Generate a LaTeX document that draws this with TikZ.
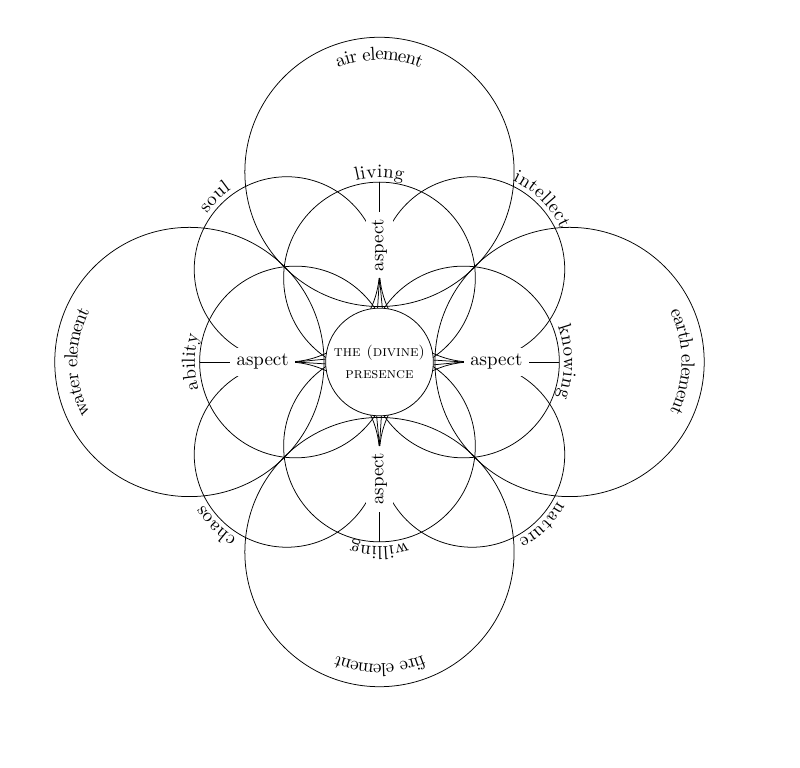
\documentclass[tikz,border=0pt]{standalone}
\usetikzlibrary{decorations.text}

\begin{document}
\begin{tikzpicture}[
    presence/.style={circle, draw, fill=white, minimum size=2cm, inner sep=0pt, align=center, font=\footnotesize\scshape},
    aspectbox/.style={fill=white},
    curved/.style={decorate, decoration={text along path, text align=center, raise=2.5pt, text={#1}}},
    curvedin/.style={decorate, decoration={text along path, text align=center, raise=-0.21cm, text={#1}}}
]
    \useasboundingbox (-7.047,-7.539) rectangle (7.809,6.722);

    % element circles
    \draw (0,3.53) circle (2.5);
    \draw (3.53,0) circle (2.5);
    \draw (0,-3.53) circle (2.5);
    \draw (-3.53,0) circle (2.5);

    % circles on the axes
    \draw (0,1.56) circle (1.78);
    \draw (1.56,0) circle (1.78);
    \draw (0,-1.56) circle (1.78);
    \draw (-1.56,0) circle (1.78);

    % circles on the diagonals
    \draw (-1.72,1.72) circle (1.72);
    \draw (1.72,1.72) circle (1.72);
    \draw (1.72,-1.72) circle (1.72);
    \draw (-1.72,-1.72) circle (1.72);

    \node[presence] (pres) at (0,0) {the (divine)\\[2pt] presence};
    \node[aspectbox, rotate=90] (asptop) at (0,2.17) {aspect};
    \node[aspectbox] (aspright) at (2.17,0) {aspect};
    \node[aspectbox, rotate=90] (aspbot) at (0,-2.17) {aspect};
    \node[aspectbox] (aspleft) at (-2.17,0) {aspect};

    \coordinate (living) at (0,3.34);
    \coordinate (knowing) at (3.34,0);
    \coordinate (willing) at (0,-3.34);
    \coordinate (ability) at (-3.34,0);

    \draw (living) -- (asptop);
    \draw (knowing) -- (aspright);
    \draw (willing) -- (aspbot);
    \draw (ability) -- (aspleft);

    % spikes into the presence
    \draw (asptop.west) -- (pres.87.3) (asptop.west) -- (pres.92.7);
    \draw (aspleft.east) -- (pres.177.3) (aspleft.east) -- (pres.182.7);
    \draw (aspbot.east) -- (pres.267.3) (aspbot.east) -- (pres.272.7);
    \draw (aspright.west) -- (pres.357.3) (aspright.west) -- (pres.2.7);

    % labels along the circles
    \path[curved=living] (0,1.56) ++(180:1.78) arc[start angle=180, end angle=0, radius=1.78];
    \path[curved=knowing] (1.56,0) ++(90:1.78) arc[start angle=90, end angle=-90, radius=1.78];
    \path[curved=willing] (0,-1.56) ++(0:1.78) arc[start angle=0, end angle=-180, radius=1.78];
    \path[curved=ability] (-1.56,0) ++(270:1.78) arc[start angle=270, end angle=90, radius=1.78];

    \path[curved=soul] (-1.72,1.72) ++(225:1.72) arc[start angle=225, end angle=45, radius=1.72];
    \path[curved=intellect] (1.72,1.72) ++(135:1.72) arc[start angle=135, end angle=-45, radius=1.72];
    \path[curved=nature] (1.72,-1.72) ++(45:1.72) arc[start angle=45, end angle=-135, radius=1.72];
    \path[curved=chaos] (-1.72,-1.72) ++(-45:1.72) arc[start angle=-45, end angle=-225, radius=1.72];

    \path[curvedin={air element}] (0,3.53) ++(180:2.29) arc[start angle=180, end angle=0, radius=2.29];
    \path[curvedin={earth element}] (3.53,0) ++(90:2.29) arc[start angle=90, end angle=-90, radius=2.29];
    \path[curvedin={fire element}] (0,-3.53) ++(0:2.29) arc[start angle=0, end angle=-180, radius=2.29];
    \path[curvedin={water element}] (-3.53,0) ++(270:2.29) arc[start angle=270, end angle=90, radius=2.29];
\end{tikzpicture}
\end{document}
